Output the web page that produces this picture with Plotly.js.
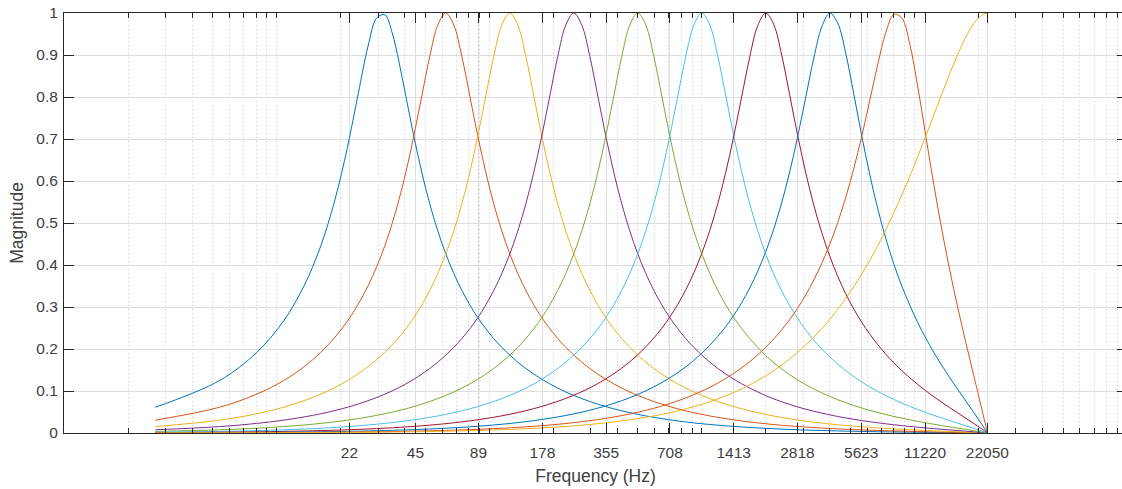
<!DOCTYPE html>
<html><head><meta charset="utf-8">
<script src="https://cdn.plot.ly/plotly-3.0.1.min.js"></script>
<style>html,body{margin:0;padding:0;overflow:hidden;background:#fff;}#chart{width:1130px;height:489px;}</style>
</head><body><div id="chart"></div>
<script>
// Frequency points (Hz)
const freqHz = [2.69,5.38,8.07,10.77,13.46,16.15,18.84,21.53,24.22,26.92,29.61,32.3,34.99,37.68,
40.53,44.19,48.19,52.56,57.31,62.5,68.16,74.33,81.05,88.39,96.39,105.11,114.63,125,136.31,148.65,162.1,176.78,192.78,210.22,229.25,250,272.63,297.3,324.21,353.55,385.55,420.45,458.5,500,545.25,594.6,648.42,707.11,771.1,840.9,917,1000,1090.5,1189.2,1296.8,1414.2,1542.2,1681.8,1834,2000,2181,2378.4,2593.7,2828.4,3084.4,3363.6,3668,4000,4362,4756.8,5187.4,5656.9,6168.8,6727.2,7336,8000,8724.1,9513.7,10374.7,11313.7,12337.7,13454.3,14672.1,16000,17448.1,19027.3,20749.4,22050];

const band31Hz = [0.0613,0.1246,0.1921,0.2664,0.3502,0.4462,0.5565,0.6801,0.8085,0.9207,0.9885,0.9957,0.9523,0.8826,
0.8025,0.7071,0.6205,0.5452,0.4810,0.4264,0.3798,0.3397,0.3050,0.2747,0.2482,0.2247,0.2039,0.1853,0.1687,0.1537,0.1402,0.1280,0.1169,0.1069,0.0977,0.0894,0.0819,0.0749,0.0686,0.0629,0.0576,0.0528,0.0484,0.0443,0.0406,0.0373,0.0342,0.0313,0.0287,0.0263,0.0241,0.0221,0.0203,0.0186,0.0171,0.0156,0.0143,0.0131,0.0121,
0.0110,0.0101,0.0092,0.0084,0.0077,0.0070,0.0064,0.0059,0.0054,0.0049,0.0045,0.0041,0.0037,0.0034,0.0030,0.0027,0.0025,0.0022,0.0020,0.0017,0.0015,0.0013,0.0011,0.0009,0.0007,0.0005,0.0003,0.0002,0];

const band63Hz = [0.0305,0.0613,0.0925,0.1246,0.1577,0.1921,0.2283,0.2664,0.3070,0.3502,0.3965,0.4462,0.4995,0.5565,
0.6205,0.7071,0.8025,0.8971,0.9712,1.0,0.9712,0.8971,0.8025,0.7071,0.6205,0.5452,0.4810,0.4264,0.3798,0.3397,0.3050,0.2747,0.2482,0.2247,0.2039,0.1853,0.1687,0.1537,0.1402,0.1280,0.1169,0.1069,0.0977,0.0894,0.0819,0.0749,0.0686,0.0629,0.0576,0.0528,0.0484,0.0443,0.0406,0.0373,0.0342,0.0313,0.0287,0.0263,0.0241,
0.0220,0.0201,0.0184,0.0169,0.0154,0.0141,0.0129,0.0118,0.0108,0.0098,0.0089,0.0081,0.0074,0.0067,0.0061,0.0055,0.0049,0.0044,0.0039,0.0035,0.0030,0.0026,0.0022,0.0018,0.0015,0.0011,0.0007,0.0003,0];

const band125Hz = [0.0152,0.0305,0.0458,0.0613,0.0768,0.0925,0.1084,0.1246,0.1410,0.1577,0.1747,0.1921,0.2100,0.2283,
0.2482,0.2747,0.3050,0.3397,0.3798,0.4264,0.4810,0.5452,0.6205,0.7071,0.8025,0.8971,0.9712,1.0,0.9712,0.8971,0.8025,0.7071,0.6205,0.5452,0.4810,0.4264,0.3798,0.3397,0.3050,0.2747,0.2482,0.2247,0.2039,0.1853,0.1687,0.1537,0.1402,0.1280,0.1169,0.1069,0.0977,0.0894,0.0819,0.0749,0.0686,0.0629,0.0576,0.0528,0.0484,
0.0440,0.0403,0.0369,0.0338,0.0309,0.0282,0.0258,0.0236,0.0215,0.0196,0.0179,0.0163,0.0148,0.0134,0.0121,0.0109,0.0098,0.0088,0.0078,0.0069,0.0060,0.0052,0.0044,0.0037,0.0029,0.0021,0.0014,0.0006,0];

const band250Hz = [0.0076,0.0152,0.0229,0.0305,0.0382,0.0458,0.0535,0.0613,0.0690,0.0768,0.0846,0.0925,0.1004,0.1084,
0.1169,0.1280,0.1402,0.1537,0.1687,0.1853,0.2039,0.2247,0.2482,0.2747,0.3050,0.3397,0.3798,0.4264,0.4810,0.5452,0.6205,0.7071,0.8025,0.8971,0.9712,1.0,0.9712,0.8971,0.8025,0.7071,0.6205,0.5452,0.4810,0.4264,0.3798,0.3397,0.3050,0.2747,0.2482,0.2247,0.2039,0.1853,0.1687,0.1537,0.1402,0.1280,0.1169,0.1069,0.0977,
0.0888,0.0812,0.0742,0.0679,0.0620,0.0567,0.0518,0.0473,0.0431,0.0393,0.0358,0.0326,0.0296,0.0268,0.0243,0.0219,0.0197,0.0176,0.0157,0.0138,0.0121,0.0104,0.0089,0.0073,0.0058,0.0043,0.0028,0.0012,0];

const band500Hz = [0.0038,0.0076,0.0114,0.0152,0.0190,0.0229,0.0267,0.0305,0.0343,0.0382,0.0420,0.0458,0.0497,0.0535,
0.0576,0.0629,0.0686,0.0749,0.0819,0.0894,0.0977,0.1069,0.1169,0.1280,0.1402,0.1537,0.1687,0.1853,0.2039,0.2247,0.2482,0.2747,0.3050,0.3397,0.3798,0.4264,0.4810,0.5452,0.6205,0.7071,0.8025,0.8971,0.9712,1.0,0.9712,0.8971,0.8025,0.7071,0.6205,0.5452,0.4810,0.4264,0.3798,0.3397,0.3050,0.2747,0.2482,0.2247,0.2039,
0.1840,0.1673,0.1522,0.1386,0.1262,0.1150,0.1048,0.0955,0.0870,0.0792,0.0721,0.0655,0.0594,0.0538,0.0487,0.0439,0.0394,0.0353,0.0314,0.0277,0.0242,0.0209,0.0177,0.0146,0.0116,0.0086,0.0055,0.0023,0];

const band1kHz = [0.0019,0.0038,0.0057,0.0076,0.0095,0.0114,0.0133,0.0152,0.0171,0.0190,0.0210,0.0229,0.0248,0.0267,
0.0287,0.0313,0.0342,0.0373,0.0406,0.0443,0.0484,0.0528,0.0576,0.0629,0.0686,0.0749,0.0819,0.0894,0.0977,0.1069,0.1169,0.1280,0.1402,0.1537,0.1687,0.1853,0.2039,0.2247,0.2482,0.2747,0.3050,0.3397,0.3798,0.4264,0.4810,0.5452,0.6205,0.7071,0.8025,0.8971,0.9712,1.0,0.9712,0.8971,0.8025,0.7071,0.6205,0.5452,0.4810,
0.4250,0.3780,0.3376,0.3026,0.2720,0.2450,0.2212,0.1999,0.1809,0.1637,0.1483,0.1342,0.1214,0.1097,0.0989,0.0890,0.0798,0.0713,0.0634,0.0559,0.0488,0.0421,0.0357,0.0294,0.0233,0.0172,0.0111,0.0047,0];

const band2kHz = [0.0010,0.0019,0.0029,0.0038,0.0048,0.0057,0.0067,0.0077,0.0086,0.0096,0.0105,0.0115,0.0125,0.0134,
0.0144,0.0157,0.0172,0.0187,0.0204,0.0223,0.0243,0.0265,0.0289,0.0315,0.0344,0.0375,0.0409,0.0446,0.0487,0.0531,0.0580,0.0633,0.0691,0.0754,0.0824,0.0900,0.0984,0.1075,0.1176,0.1288,0.1410,0.1546,0.1696,0.1864,0.2051,0.2260,0.2495,0.2761,0.3064,0.3411,0.3812,0.4278,0.4823,0.5462,0.6210,0.7071,0.8019,0.8960,0.9703,
1.0,0.9723,0.8986,0.8035,0.7071,0.6190,0.5424,0.4768,0.4207,0.3727,0.3312,0.2951,0.2634,0.2353,0.2102,0.1876,0.1671,0.1484,0.1314,0.1153,0.1004,0.0864,0.0730,0.0601,0.0476,0.0351,0.0226,0.0096,0];

const band4kHz = [0.0005,0.0010,0.0015,0.0020,0.0024,0.0029,0.0034,0.0039,0.0044,0.0049,0.0054,0.0059,0.0064,0.0068,
0.0074,0.0080,0.0088,0.0095,0.0104,0.0114,0.0124,0.0135,0.0147,0.0161,0.0175,0.0191,0.0208,0.0227,0.0248,0.0270,0.0295,0.0322,0.0351,0.0383,0.0417,0.0455,0.0497,0.0542,0.0592,0.0646,0.0705,0.0770,0.0841,0.0918,0.1003,0.1097,0.1200,0.1313,0.1438,0.1575,0.1728,0.1898,0.2087,0.2298,0.2535,0.2804,0.3108,0.3456,0.3856,
0.4320,0.4860,0.5492,0.6228,0.7071,0.8000,0.8927,0.9673,0.9998,0.9756,0.9034,0.8070,0.7071,0.6148,0.5335,0.4632,0.4026,0.3499,0.3041,0.2626,0.2257,0.1920,0.1609,0.1315,0.1035,0.0761,0.0487,0.0206,0];

const band8kHz = [0.0003,0.0005,0.0008,0.0011,0.0013,0.0016,0.0019,0.0021,0.0024,0.0027,0.0029,0.0032,0.0035,0.0037,
0.0040,0.0044,0.0048,0.0052,0.0057,0.0062,0.0067,0.0073,0.0080,0.0087,0.0095,0.0104,0.0113,0.0123,0.0135,0.0147,0.0160,0.0175,0.0190,0.0208,0.0226,0.0247,0.0269,0.0294,0.0320,0.0349,0.0381,0.0416,0.0453,0.0495,0.0540,0.0589,0.0642,0.0701,0.0765,0.0835,0.0912,0.0996,0.1087,0.1188,0.1298,0.1420,0.1553,0.1700,0.1862,
0.2041,0.2239,0.2460,0.2707,0.2982,0.3292,0.3643,0.4041,0.4495,0.5015,0.5613,0.6297,0.7071,0.7919,0.8783,0.9533,0.9964,0.9881,0.9259,0.8236,0.7071,0.5917,0.4845,0.3871,0.2982,0.2156,0.1363,0.0573,0];

const band16kHz = [0.0002,0.0004,0.0006,0.0007,0.0009,0.0011,0.0013,0.0015,0.0017,0.0018,0.0020,0.0022,0.0024,0.0026,
0.0028,0.0030,0.0033,0.0036,0.0039,0.0043,0.0047,0.0051,0.0055,0.0060,0.0066,0.0072,0.0078,0.0085,0.0093,0.0102,0.0111,0.0121,0.0132,0.0144,0.0157,0.0171,0.0186,0.0203,0.0222,0.0242,0.0264,0.0288,0.0314,0.0342,0.0373,0.0406,0.0443,0.0483,0.0527,0.0575,0.0627,0.0683,0.0745,0.0812,0.0886,0.0966,0.1053,0.1148,0.1251,
0.1364,0.1486,0.1620,0.1765,0.1924,0.2096,0.2283,0.2486,0.2706,0.2945,0.3204,0.3484,0.3787,0.4112,0.4463,0.4838,0.5239,0.5664,0.6108,0.6584,0.7071,0.7569,0.8070,0.8558,0.9018,0.9426,0.9750,0.9953,1];

const xTickVals = [22,45,89,178,355,708,1413,2818,5623,11220,22050];
const xTickText = ['22','45','89','178','355','708','1413','2818','5623','11220','22050'];
const yTickVals = [0,0.1,0.2,0.3,0.4,0.5,0.6,0.7,0.8,0.9,1];
const yTickText = ['0','0.1','0.2','0.3','0.4','0.5','0.6','0.7','0.8','0.9','1'];

const bands = [band31Hz,band63Hz,band125Hz,band250Hz,band500Hz,band1kHz,band2kHz,band4kHz,band8kHz,band16kHz];
const colors = ['#0072BD','#D95319','#EDB120','#7E2F8E','#77AC30','#4DBEEE','#A2142F','#0072BD','#D95319','#EDB120'];

const traces = bands.map((b,i)=>({
  x: freqHz, y: b, type:'scatter', mode:'lines',
  line:{color:colors[i], width:1, shape:'spline', smoothing:1},
  hoverinfo:'skip', showlegend:false
}));

const minorVals = [];
for (let e=0;e<5;e++) for (let m=1;m<10;m++){ const v=m*Math.pow(10,e); if(v>1) minorVals.push(v); }

const axCol = '#262626';
const txtCol = '#404040';
const fontFam = '"Liberation Sans", Arial, Helvetica, sans-serif';
const layout = {
  width:1130, height:489,
  margin:{l:64, r:3, t:13, b:56},
  paper_bgcolor:'#fff', plot_bgcolor:'#fff',
  font:{family:fontFam, color:txtCol, size:15.5},
  xaxis:{
    type:'log', range:[0,5], tickmode:'array', tickvals:xTickVals, ticktext:xTickText,
    ticks:'inside', ticklen:10, tickwidth:1, tickcolor:axCol,
    showline:true, linecolor:axCol, linewidth:1, mirror:'ticks',
    showgrid:true, gridcolor:'#dedede', gridwidth:1, zeroline:false,
    tickfont:{size:15.5, color:txtCol}, ticklabelstandoff:5,
    minor:{tickmode:'array', tickvals:minorVals, ticks:'inside', ticklen:5, tickcolor:axCol,
           showgrid:true, gridcolor:'#c8c8c8', griddash:'1px,3px', gridwidth:1},
    title:{text:'Frequency (Hz)', font:{size:17.5, color:txtCol}, standoff:10}
  },
  yaxis:{
    range:[0,1], tickmode:'array', tickvals:yTickVals, ticktext:yTickText,
    ticks:'inside', ticklen:10, tickwidth:1, tickcolor:axCol,
    showline:true, linecolor:axCol, linewidth:1, mirror:'ticks',
    showgrid:true, gridcolor:'#dedede', gridwidth:1, zeroline:false,
    tickfont:{size:15.5, color:txtCol}, ticklabelstandoff:2,
    title:{text:'Magnitude', font:{size:17.5, color:txtCol}, standoff:8}
  }
};
Plotly.newPlot('chart', traces, layout, {displayModeBar:false, staticPlot:true});
</script></body></html>
